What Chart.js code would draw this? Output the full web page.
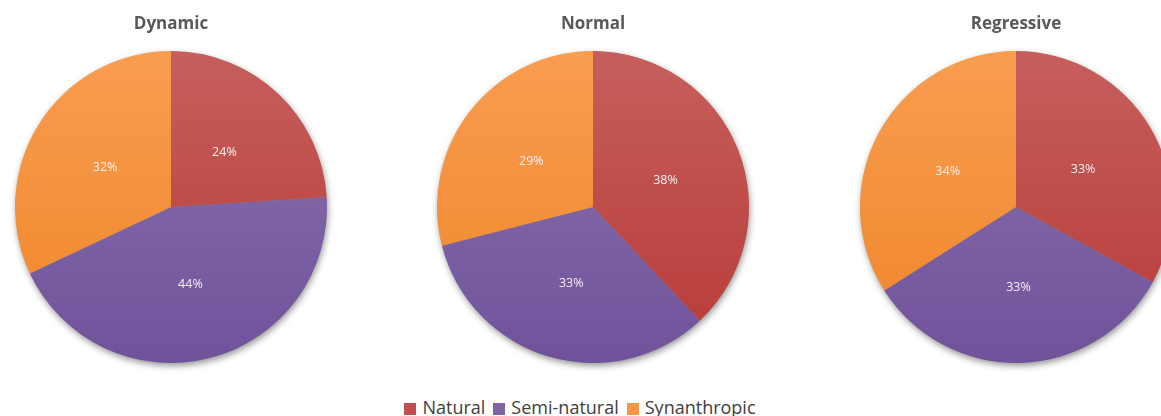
<!DOCTYPE html>
<html>
<head>
<meta charset="utf-8">
<script src="https://cdn.jsdelivr.net/npm/chart.js@4.4.1/dist/chart.umd.min.js"></script>
<style>
  html, body { margin: 0; padding: 0; background: #ffffff; width: 1161px; height: 416px; overflow: hidden; position: relative; }
  canvas.pie { position: absolute; top: 0; }
  #legend { position: absolute; top: 394px; left: 0; width: 1160px; text-align: center; font-family: "Open Sans", sans-serif; font-size: 18px; line-height: 26px; color: #404040; white-space: nowrap; }
  #legend .item { display: inline-block; margin: 0 4px; }
  #legend .box { display: inline-block; width: 12px; height: 12px; margin-right: 6px; vertical-align: -1px; }
</style>
</head>
<body>
<canvas id="c1" class="pie" width="340" height="377" style="left:1px"></canvas>
<canvas id="c2" class="pie" width="340" height="377" style="left:423px"></canvas>
<canvas id="c3" class="pie" width="340" height="377" style="left:846px"></canvas>
<div id="legend"></div>
<script>
const categories = ["Natural", "Semi-natural", "Synanthropic"];
const chartTitles = ["Dynamic", "Normal", "Regressive"];
const dynamicValues = [24, 44, 32];
const normalValues = [38, 33, 29];
const regressiveValues = [33, 33, 34];

const seriesColors = [
  ["#C65F5C", "#B73A37"],
  ["#8B73AE", "#70529B"],
  ["#F99D50", "#EF8528"]
];
const legendColors = ["#C0504D", "#8064A2", "#F79646"];

function gradFill(ctx) {
  const idx = ctx.dataIndex;
  const chart = ctx.chart;
  const area = chart.chartArea;
  if (!area) return seriesColors[idx][0];
  const g = chart.ctx.createLinearGradient(0, area.top, 0, area.bottom);
  g.addColorStop(0, seriesColors[idx][0]);
  g.addColorStop(1, seriesColors[idx][1]);
  return g;
}

const shadowPlugin = {
  id: 'pieShadow',
  beforeDatasetsDraw(chart) {
    const meta = chart.getDatasetMeta(0);
    const arc = meta.data[0];
    if (!arc) return;
    const p = arc.getProps(['x', 'y', 'outerRadius'], true);
    const c = chart.ctx;
    c.save();
    c.shadowColor = 'rgba(0,0,0,0.45)';
    c.shadowBlur = 7;
    c.shadowOffsetX = 1;
    c.shadowOffsetY = 3;
    c.fillStyle = '#888';
    c.beginPath();
    c.arc(p.x, p.y, p.outerRadius - 0.5, 0, Math.PI * 2);
    c.fill();
    c.restore();
  }
};

const labelPlugin = {
  id: 'pctLabels',
  afterDatasetsDraw(chart) {
    const c = chart.ctx;
    const meta = chart.getDatasetMeta(0);
    const vals = chart.data.datasets[0].data;
    c.save();
    c.font = '12.5px "Open Sans", sans-serif';
    c.fillStyle = '#F6F0F0';
    c.textAlign = 'center';
    c.textBaseline = 'middle';
    meta.data.forEach((arc, i) => {
      const pos = arc.tooltipPosition(true);
      c.fillText(vals[i] + '%', pos.x, pos.y + 2);
    });
    c.restore();
  }
};

function makePie(id, title, values) {
  new Chart(document.getElementById(id), {
    type: 'pie',
    data: {
      labels: categories,
      datasets: [{
        data: values,
        backgroundColor: gradFill,
        borderWidth: 0,
        hoverOffset: 0
      }]
    },
    options: {
      responsive: false,
      animation: false,
      events: [],
      layout: { padding: { left: 14, right: 14, top: 0, bottom: 14 } },
      plugins: {
        legend: { display: false },
        tooltip: { enabled: false },
        title: {
          display: true,
          text: title,
          color: '#595959',
          font: { family: '"Open Sans", sans-serif', size: 17, weight: 'bold' },
          padding: { top: 13.8, bottom: 16.8 }
        }
      }
    },
    plugins: [shadowPlugin, labelPlugin]
  });
}

makePie('c1', chartTitles[0], dynamicValues);
makePie('c2', chartTitles[1], normalValues);
makePie('c3', chartTitles[2], regressiveValues);

const legend = document.getElementById('legend');
categories.forEach((name, i) => {
  const item = document.createElement('span');
  item.className = 'item';
  const box = document.createElement('span');
  box.className = 'box';
  box.style.background = legendColors[i];
  item.appendChild(box);
  item.appendChild(document.createTextNode(name));
  legend.appendChild(item);
});
</script>
</body>
</html>
